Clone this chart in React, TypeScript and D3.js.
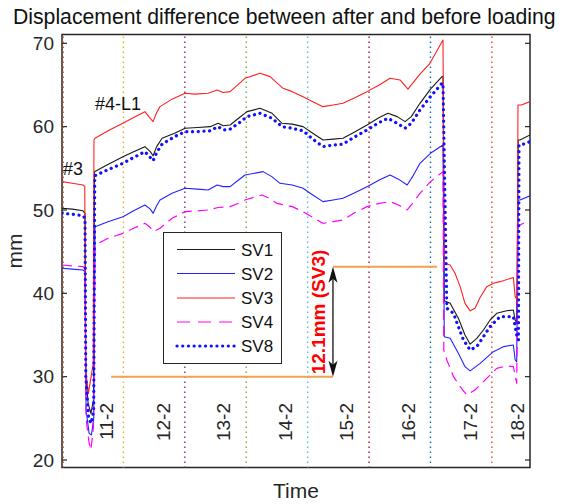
import React from 'react';
import * as d3 from 'd3';

type P = [number, number];

// [hour, mm]
const sv1: P[] = [
  [0, 50.2], [4, 50.1], [8.2, 49.9], [9.0, 49.6], [9.3, 30.5], [10.2, 26.8], [11.3, 25.6], [12.3, 27.2], [12.7, 54.6],
  [17, 55.3], [23.8, 56.4], [28, 57.0], [32.4, 57.6], [34.5, 57.0], [35.6, 56.5], [37, 57.6], [39.1, 58.6], [44, 59.2],
  [48.1, 59.8], [53, 59.9], [57.9, 60.0], [61.0, 60.4], [63, 60.1], [65.7, 60.2], [69, 61.0], [72.3, 61.8], [77.4, 62.2],
  [82.1, 61.6], [86.0, 60.4], [90, 60.3], [94.2, 60.0], [98, 59.2], [102.0, 58.4], [106, 58.5], [109.8, 58.6],
  [114, 59.3], [119.2, 60.2], [124, 61.1], [127.4, 61.6], [131, 61.2], [134.1, 60.6], [136.5, 61.2], [139.9, 62.8],
  [144, 64.5], [148.5, 66.0], [148.9, 66.0], [149.4, 39.1], [151.7, 38.8], [154.9, 37.0], [157.5, 35.0], [159.5, 33.9],
  [162.1, 34.6], [164.7, 35.6], [167.3, 36.8], [169.9, 37.6], [173.8, 37.9], [176.4, 38.0], [177.1, 36.8], [177.7, 36.4],
  [178.3, 58.4], [179.0, 58.4], [182.9, 59.0],
];

const sv2: P[] = [
  [0, 43.0], [4, 42.9], [8.2, 42.8], [9.0, 42.6], [9.4, 26.0], [10.6, 23.2], [11.5, 23.0], [12.4, 25.0], [12.9, 48.0],
  [18, 48.6], [23.8, 49.2], [28, 49.9], [32.4, 50.6], [34.5, 50.1], [35.6, 49.6], [37, 50.5], [38.3, 51.2], [43, 52.0],
  [48.1, 52.6], [53, 52.5], [57.1, 52.4], [60.6, 53.0], [63, 52.8], [65.7, 52.8], [69, 53.6], [71.5, 54.2], [78.6, 54.6],
  [82, 54.0], [85.2, 53.2], [90, 53.0], [94.2, 52.6], [98, 51.8], [102.0, 51.0], [106, 51.2], [109.8, 51.4],
  [114, 52.0], [119.2, 52.8], [124, 53.6], [128.2, 54.2], [131.5, 53.7], [134.9, 53.0], [137, 54.0], [139.9, 55.6],
  [144, 56.8], [148.9, 57.8], [149.4, 34.8], [151.7, 34.6], [154.9, 32.8], [157.5, 31.2], [159.5, 30.7], [163.4, 31.6],
  [168.6, 33.0], [172.5, 33.6], [176.4, 33.8], [177.1, 32.0], [177.7, 31.8], [178.3, 51.2], [179.0, 51.2], [182.9, 51.7],
];

const sv3: P[] = [
  [0, 53.4], [4, 53.2], [8.2, 53.0], [8.9, 52.8], [9.2, 31.0], [10.3, 28.0], [11.6, 30.4], [12.2, 31.6], [12.5, 58.4],
  [12.9, 58.6], [18, 59.5], [23.8, 60.4], [28, 61.1], [32.4, 61.8], [34.5, 61.0], [35.6, 60.6], [37, 61.7], [38.3, 62.4],
  [43, 63.3], [48.1, 64.0], [52, 63.9], [57.1, 64.0], [60.6, 64.4], [63, 64.1], [65.7, 64.2], [69, 65.1], [71.5, 65.8],
  [77.4, 66.4], [81.3, 66.0], [86.4, 64.6], [90, 64.2], [94.2, 63.6], [98, 63.0], [102.0, 62.4], [106, 62.6],
  [109.8, 62.8], [114, 63.4], [119.2, 64.2], [124, 65.0], [128.2, 65.8], [132.1, 65.6], [135.2, 64.5], [139.9, 66.3],
  [143.8, 67.6], [148.9, 70.4], [149.4, 43.6], [151.7, 43.4], [153.6, 42.4], [155.6, 40.8], [157.5, 38.8], [159.5, 37.9],
  [161.4, 38.2], [163.4, 39.5], [166.0, 40.8], [168.6, 41.2], [171.2, 41.4], [176.4, 41.9], [177.1, 39.6], [177.9, 39.2],
  [178.2, 62.6], [179.5, 62.6], [182.9, 63.0],
];

const sv4: P[] = [
  [0, 43.4], [4, 43.3], [8.2, 43.2], [9.0, 43.0], [9.4, 25.0], [10.6, 22.0], [11.3, 21.2], [12.3, 24.0], [12.9, 45.8],
  [18, 46.6], [23.8, 47.2], [28, 47.8], [32.4, 48.4], [34.5, 47.9], [35.6, 47.4], [37, 47.6], [38.3, 47.8], [43, 49.0],
  [48.1, 49.8], [53, 49.9], [57.1, 50.0], [61, 50.3], [65.7, 50.4], [69, 50.8], [71.5, 51.2], [78.2, 51.8], [81, 51.4],
  [84.0, 50.8], [90, 50.4], [94.2, 49.8], [98, 49.1], [102.0, 48.4], [106, 48.6], [109.8, 48.8], [114, 49.6],
  [119.2, 50.4], [124, 50.8], [128.2, 51.0], [131.5, 50.6], [134.9, 50.0], [137, 50.8], [139.9, 52.0], [144, 53.4],
  [148.9, 54.6], [149.2, 33.2], [150.4, 32.0], [153.0, 30.0], [155.6, 28.8], [158.2, 27.8], [161.4, 28.4], [164.7, 29.4],
  [169.9, 31.0], [173.8, 31.3], [176.4, 31.2], [177.7, 29.2], [178.3, 48.2], [179.0, 48.2], [182.9, 48.8],
];

const sv8: P[] = [
  [0, 49.6], [4, 49.5], [8.2, 49.3], [9.0, 49.0], [9.3, 30.0], [10.4, 25.0], [11.4, 24.4], [12.4, 26.0], [12.8, 54.1],
  [17, 54.7], [23.8, 55.6], [28, 56.3], [32.4, 57.0], [34.5, 56.3], [35.6, 55.9], [37, 56.9], [39.1, 57.9], [44, 58.8],
  [48.1, 59.4], [53, 59.4], [57.9, 59.5], [61.0, 60.0], [63, 59.6], [65.7, 59.7], [69, 60.4], [72.3, 61.2], [77.4, 61.6],
  [82.1, 61.0], [86.0, 60.0], [90, 59.8], [94.2, 59.5], [98, 58.5], [102.0, 57.6], [106, 57.8], [109.8, 57.9],
  [114, 58.7], [119.2, 59.6], [124, 60.5], [127.4, 61.0], [131, 60.4], [134.1, 59.8], [136.5, 60.4], [139.9, 62.0],
  [144, 63.6], [148.5, 65.2], [148.9, 65.2], [150.4, 38.2], [153.0, 37.6], [154.9, 36.0], [156.9, 34.4], [159.5, 33.2],
  [162.1, 33.6], [164.7, 34.8], [167.3, 36.0], [171.2, 37.2], [176.4, 37.2], [177.7, 35.0], [178.4, 34.4], [178.6, 57.8],
  [179.5, 57.8], [182.9, 58.2],
];

const seriesNames = ['SV1', 'SV2', 'SV3', 'SV4', 'SV8'];
const yTicks = [20, 30, 40, 50, 60, 70];
const dayLineHours = [0, 24, 48, 72, 96, 120, 144, 168];
const dateLabels = ['11-2', '12-2', '13-2', '14-2', '15-2', '16-2', '17-2', '18-2'];
const dateLabelHours = [17.4, 39.5, 63.3, 87.2, 111.1, 135.3, 159.5, 178.2];
// annotation values
const lowerRef = { h0: 19.2, h1: 105.9, v: 30.0 };
const upperRef = { h0: 105.9, h1: 146.6, v: 43.2 };
const arrowHour = 105.9;

const dayColors = ['#D95319', '#EDB120', '#7E2F8E', '#77AC30', '#4DBEEE', '#A2142F', '#0072BD', '#D95319'];

export default function App() {
  const L = 62, R = 530, T = 34.5, B = 467.5;
  const x = d3.scaleLinear().domain([0, 182.9]).range([L, R]);
  const y = d3.scaleLinear().domain([20, 70]).range([460, 43.3]);
  const line = d3.line<P>().x(d => x(d[0])).y(d => y(d[1]));
  const font = '"Liberation Sans", Arial, Helvetica, sans-serif';
  const axisColor = '#262626';

  const styles = [
    { data: sv1, color: '#1a1a1a', w: 1.1, dash: undefined as string | undefined, cap: 'butt' },
    { data: sv2, color: '#2222ff', w: 1.1, dash: undefined, cap: 'butt' },
    { data: sv3, color: '#ff2020', w: 1.1, dash: undefined, cap: 'butt' },
    { data: sv4, color: '#ff00ff', w: 1.2, dash: '10 6', cap: 'butt' },
    { data: sv8, color: '#1010ff', w: 3.2, dash: '0.1 5.6', cap: 'round' },
  ];

  const ax = x(arrowHour);
  const yTop = y(upperRef.v);
  const yBot = y(lowerRef.v);
  const ah = 16, aw = 4.5;

  const legX = 163.5, legY = 232.5, legW = 118, legH = 131;
  const legRowY = [249.5, 273.5, 298, 322, 346];

  return (
    <svg width={580} height={504} style={{ position: 'absolute', left: 0, top: 0, background: '#fff' }} fontFamily={font}>
      <rect x={0} y={0} width={580} height={504} fill="#fff" />
      <defs>
        <clipPath id="plot">
          <rect x={L} y={T} width={R - L} height={B - T} />
        </clipPath>
      </defs>
      <text x={13} y={24} fontSize={21.2} fill="#111">Displacement difference between after and before loading</text>

      {/* axes box */}
      <rect x={L} y={T} width={R - L} height={B - T} fill="none" stroke={axisColor} strokeWidth={1.5} />
      {yTicks.map(t => (
        <g key={t}>
          <line x1={L} x2={L + 5} y1={y(t)} y2={y(t)} stroke={axisColor} strokeWidth={1.2} />
          <line x1={R - 5} x2={R} y1={y(t)} y2={y(t)} stroke={axisColor} strokeWidth={1.2} />
          <text x={54} y={y(t)} dy="0.35em" textAnchor="end" fontSize={19} fill={axisColor}>{t}</text>
        </g>
      ))}

      {/* day lines */}
      {dayLineHours.map((h, i) => (
        <line key={h} x1={x(h) + (i === 0 ? 1.2 : 0)} x2={x(h) + (i === 0 ? 1.2 : 0)} y1={T + 2} y2={B} stroke={dayColors[i]}
          strokeWidth={1.4} strokeDasharray="1.4 3.6" />
      ))}

      {/* reference lines */}
      <g stroke="#F0A24E" strokeWidth={2}>
        <line x1={x(lowerRef.h0)} x2={x(lowerRef.h1)} y1={yBot} y2={yBot} />
        <line x1={x(upperRef.h0)} x2={x(upperRef.h1)} y1={yTop} y2={yTop} />
      </g>

      {/* series */}
      <g clipPath="url(#plot)" fill="none">
        {styles.map((s, i) => (
          <path key={i} d={line(s.data) || ''} stroke={s.color} strokeWidth={s.w}
            strokeDasharray={s.dash} strokeLinecap={s.cap as any} strokeLinejoin="round" />
        ))}
      </g>

      {/* double arrow */}
      <line x1={ax} x2={ax} y1={yTop + 4} y2={yBot - 4} stroke="#111" strokeWidth={1.3} />
      <path d={`M${ax},${yTop} L${ax - aw},${yTop + ah} L${ax},${yTop + ah - 4} L${ax + aw},${yTop + ah} Z`} fill="#111" />
      <path d={`M${ax},${yBot} L${ax - aw},${yBot - ah} L${ax},${yBot - ah + 4} L${ax + aw},${yBot - ah} Z`} fill="#111" />
      <text transform={`translate(${ax - 14.5},312) rotate(-90)`} textAnchor="middle" dominantBaseline="central"
        fontSize={19} fontWeight="bold" fill="#ff0000">12.1mm (SV3)</text>

      {/* labels */}
      <text x={63} y={175} fontSize={18} fill="#111">#3</text>
      <text x={95} y={110} fontSize={18} fill="#111">#4-L1</text>

      {dateLabels.map((d, i) => (
        <text key={d} transform={`translate(${x(dateLabelHours[i])},403) rotate(-90)`} textAnchor="end"
          dominantBaseline="central" fontSize={19} fill={axisColor}>{d}</text>
      ))}

      {/* legend */}
      <rect x={legX} y={legY} width={legW} height={legH} fill="#fff" stroke={axisColor} strokeWidth={1} />
      {styles.map((s, i) => (
        <g key={i}>
          <line x1={177} x2={235} y1={legRowY[i]} y2={legRowY[i]} stroke={s.color} strokeWidth={s.w}
            strokeDasharray={i === 3 ? '13 8' : s.dash} strokeLinecap={s.cap as any} />
          <text x={241} y={legRowY[i]} dy="0.36em" fontSize={17} fill="#111">{seriesNames[i]}</text>
        </g>
      ))}

      {/* axis labels */}
      <text x={(L + R) / 2} y={498} textAnchor="middle" fontSize={21} fill={axisColor}>Time</text>
      <text transform={`translate(22,${(T + B) / 2}) rotate(-90)`} textAnchor="middle" fontSize={21} fill={axisColor}>mm</text>
    </svg>
  );
}
